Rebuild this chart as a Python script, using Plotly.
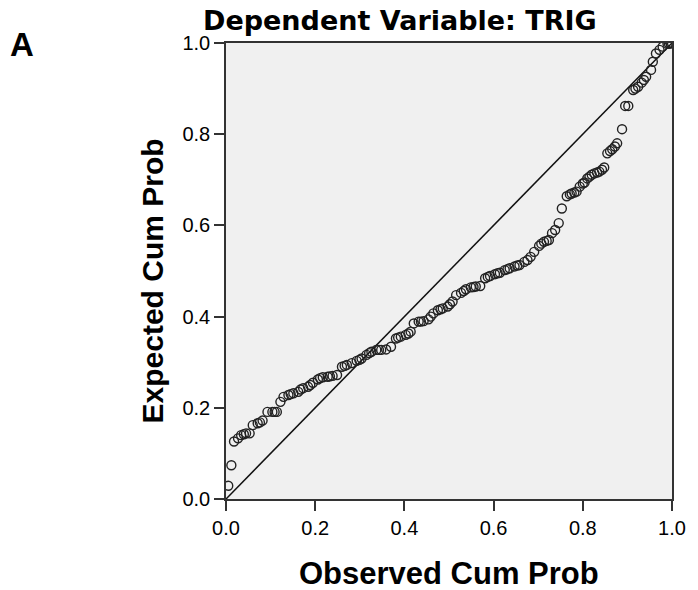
import plotly.graph_objects as go

# Observed cumulative probability (x) and expected cumulative probability (y)
observed_cum_prob = [
    0.005, 0.012, 0.018, 0.027, 0.034, 0.040, 0.045, 0.053, 0.060, 0.071,
    0.076, 0.082, 0.093, 0.104, 0.109, 0.114, 0.122, 0.129, 0.140, 0.145,
    0.151, 0.162, 0.167, 0.173, 0.184, 0.189, 0.195, 0.206, 0.211, 0.217,
    0.228, 0.233, 0.239, 0.249, 0.260, 0.266, 0.271, 0.282, 0.293, 0.299,
    0.304, 0.315, 0.321, 0.326, 0.337, 0.343, 0.348, 0.359, 0.370, 0.381,
    0.386, 0.392, 0.403, 0.409, 0.414, 0.421, 0.432, 0.437, 0.443, 0.454,
    0.459, 0.465, 0.475, 0.481, 0.486, 0.497, 0.502, 0.508, 0.516, 0.527,
    0.533, 0.538, 0.549, 0.555, 0.560, 0.570, 0.581, 0.587, 0.592, 0.603,
    0.609, 0.614, 0.625, 0.631, 0.636, 0.647, 0.653, 0.658, 0.669, 0.676,
    0.683, 0.691, 0.702, 0.707, 0.713, 0.719, 0.724, 0.731, 0.738, 0.746,
    0.753, 0.764, 0.771, 0.775, 0.781, 0.786, 0.793, 0.800, 0.804, 0.810,
    0.815, 0.820, 0.826, 0.832, 0.837, 0.843, 0.848, 0.855, 0.861, 0.866,
    0.872, 0.877, 0.888, 0.895, 0.902, 0.913, 0.918, 0.924, 0.932, 0.937,
    0.942, 0.953, 0.957, 0.964, 0.972, 0.979, 0.990, 0.993, 0.997, 1.000,
]
expected_cum_prob = [
    0.029, 0.074, 0.126, 0.133, 0.140, 0.142, 0.144, 0.144, 0.162, 0.166,
    0.168, 0.172, 0.191, 0.191, 0.191, 0.191, 0.213, 0.224, 0.228, 0.230,
    0.232, 0.235, 0.240, 0.243, 0.246, 0.250, 0.255, 0.262, 0.265, 0.267,
    0.268, 0.269, 0.270, 0.272, 0.290, 0.292, 0.294, 0.298, 0.303, 0.305,
    0.308, 0.316, 0.320, 0.323, 0.327, 0.327, 0.327, 0.328, 0.334, 0.352,
    0.354, 0.356, 0.360, 0.363, 0.367, 0.385, 0.389, 0.389, 0.390, 0.394,
    0.400, 0.407, 0.414, 0.416, 0.418, 0.422, 0.427, 0.433, 0.447, 0.452,
    0.456, 0.460, 0.464, 0.465, 0.466, 0.467, 0.484, 0.487, 0.489, 0.493,
    0.495, 0.496, 0.502, 0.504, 0.506, 0.510, 0.512, 0.513, 0.520, 0.524,
    0.531, 0.542, 0.555, 0.560, 0.564, 0.566, 0.568, 0.583, 0.590, 0.605,
    0.637, 0.664, 0.668, 0.670, 0.672, 0.674, 0.685, 0.692, 0.694, 0.703,
    0.707, 0.711, 0.714, 0.716, 0.718, 0.722, 0.727, 0.758, 0.763, 0.767,
    0.773, 0.780, 0.811, 0.862, 0.862, 0.897, 0.900, 0.904, 0.913, 0.919,
    0.926, 0.941, 0.959, 0.977, 0.985, 0.992, 0.998, 0.999, 0.999, 1.000,
]
ref_line_x = [0.0, 1.0]
ref_line_y = [0.0, 1.0]
tick_vals = [0.0, 0.2, 0.4, 0.6, 0.8, 1.0]
tick_text = ["0.0", "0.2", "0.4", "0.6", "0.8", "1.0"]

title_text = "Dependent Variable: TRIG"
panel_label = "A"
x_label = "Observed Cum Prob"
y_label = "Expected Cum Prob"

fig = go.Figure()
fig.add_trace(go.Scatter(
    x=ref_line_x, y=ref_line_y, mode="lines",
    line=dict(color="#111111", width=1.5), hoverinfo="skip", showlegend=False,
))
fig.add_trace(go.Scatter(
    x=observed_cum_prob, y=expected_cum_prob, mode="markers",
    marker=dict(symbol="circle-open", size=9, color="#222222",
                line=dict(width=1.4, color="#222222")),
    showlegend=False,
))

axis_common = dict(
    range=[0, 1], tickvals=tick_vals, ticktext=tick_text,
    showgrid=False, zeroline=False, showline=True, mirror=True,
    linecolor="#333333", linewidth=1.5,
    ticks="outside", ticklen=10, tickwidth=1.5, tickcolor="#333333",
    tickfont=dict(family="Liberation Sans, Arial, sans-serif", size=20, color="#000000"),
    fixedrange=True,
)
fig.update_xaxes(**axis_common)
fig.update_yaxes(**axis_common)

fig.update_layout(
    width=698, height=590,
    margin=dict(l=226, r=15, t=43, b=91),
    paper_bgcolor="#ffffff", plot_bgcolor="#f0f0f0",
    showlegend=False,
    annotations=[
        dict(text=title_text, xref="paper", yref="paper", x=0.3906, y=1.050,
             xanchor="center", yanchor="middle", showarrow=False,
             font=dict(family="DejaVu Sans, sans-serif", size=27, color="#000000", weight="bold")),
        dict(text=panel_label, xref="paper", yref="paper", x=-0.458, y=0.997,
             xanchor="center", yanchor="middle", showarrow=False,
             font=dict(family="Liberation Sans, Arial, sans-serif", size=33, color="#000000", weight="bold")),
        dict(text=x_label, xref="paper", yref="paper", x=0.5, y=-0.164,
             xanchor="center", yanchor="middle", showarrow=False,
             font=dict(family="Liberation Sans, Arial, sans-serif", size=31, color="#000000", weight="bold")),
        dict(text=y_label, xref="paper", yref="paper", x=-0.165, y=0.478,
             xanchor="center", yanchor="middle", showarrow=False, textangle=-90,
             font=dict(family="Liberation Sans, Arial, sans-serif", size=30, color="#000000", weight="bold")),
    ],
)

fig.write_html("out.html")
